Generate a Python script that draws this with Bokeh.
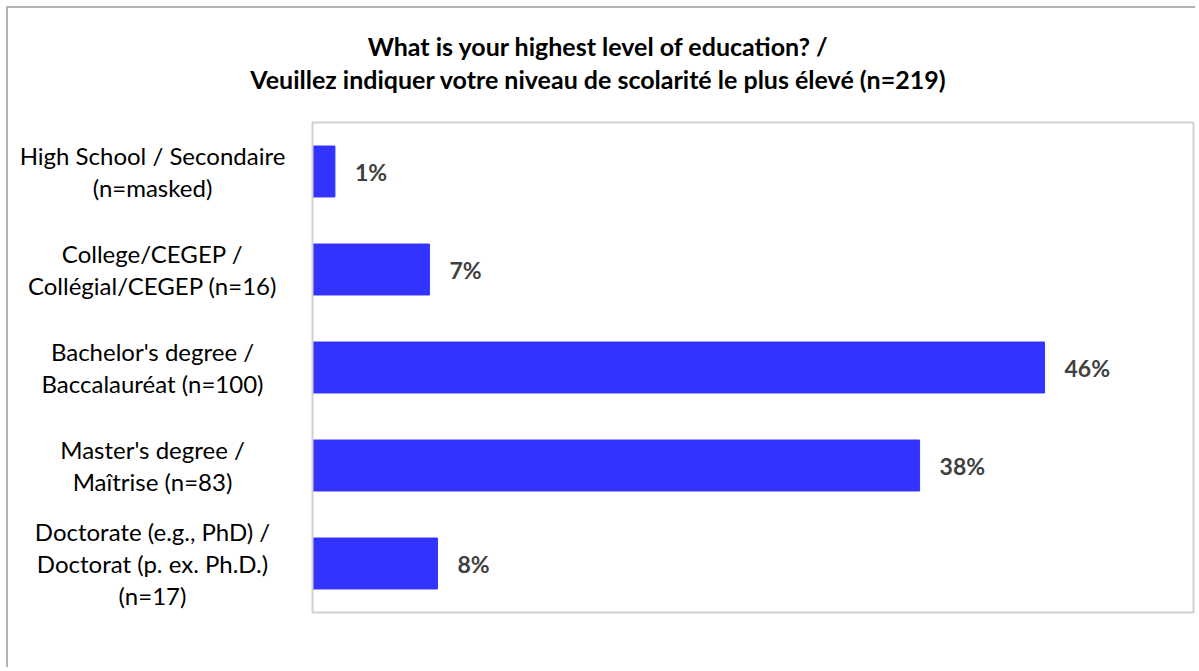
from bokeh.plotting import figure
from bokeh.models import Range1d, ColumnDataSource, Label, BoxAnnotation
from bokeh.core.properties import value
from bokeh.embed import file_html
from bokeh.resources import INLINE

categories = [
    "High School / Secondaire\n(n=masked)",
    "College/CEGEP /\nCollégial/CEGEP (n=16)",
    "Bachelor's degree /\nBaccalauréat (n=100)",
    "Master's degree /\nMaîtrise (n=83)",
    "Doctorate (e.g., PhD) /\nDoctorat (p. ex. Ph.D.)\n(n=17)",
]
percent = [1.4, 7.3, 45.7, 37.9, 7.8]
value_labels = ["1%", "7%", "46%", "38%", "8%"]

title_line1 = "What is your highest level of education? /"
title_line2 = "Veuillez indiquer votre niveau de scolarité le plus élevé (n=219)"

n = len(categories)
ypos = list(range(n))
x_max = 55

# layout (pixels on the canvas)
W, H = 1189, 661
area_left, area_right = 304, 1185   # plot-area box in canvas px
area_top, area_bottom = 114, 604
px_x = (area_right - area_left) / x_max
px_y = (area_bottom - area_top) / n

x_range = Range1d(-area_left / px_x, x_max + (W - area_right) / px_x)
y_range = Range1d(n - 0.5 + (H - area_bottom) / px_y, -0.5 - area_top / px_y)

src = ColumnDataSource(dict(y=ypos, cat=categories, pct=percent, lab=value_labels))

p = figure(
    width=W, height=H, x_range=x_range, y_range=y_range,
    output_backend="svg", toolbar_location=None,
    min_border=0, min_border_left=0, min_border_right=0, min_border_top=0, min_border_bottom=0,
    styles={"border-left": "2px solid #b3b3b3", "border-top": "2px solid #b3b3b3",
            "margin-left": "6px", "margin-top": "6px"},
)
p.xaxis.visible = False
p.yaxis.visible = False
p.xgrid.visible = False
p.ygrid.visible = False
p.outline_line_color = None
p.background_fill_color = "white"
p.border_fill_color = "white"

p.add_layout(BoxAnnotation(left=0, right=x_max, top=-0.5, bottom=n - 0.5,
                           fill_color=None, line_color="#d0d0d0", line_alpha=1.0,
                           line_width=2))

p.hbar(y="y", right="pct", left=0, height=0.52, source=src,
       fill_color="#3333ff", line_color="#3333ff")
p.text(x="pct", y="y", text="lab", source=src, x_offset=20,
       text_align="left", text_baseline="middle",
       text_font=value("Lato"), text_font_style="bold", text_font_size="23px",
       text_color="#404040")

for yi, cat in zip(ypos, categories):
    p.add_layout(Label(x=144, y=yi, x_units="screen", y_units="data", text=cat,
                       text_align="center", text_baseline="middle",
                       text_font="Lato", text_font_size="24px", text_color="#000000",
                       text_line_height=1.12))

p.add_layout(Label(x=590, y=H - 37, x_units="screen", y_units="screen", text=title_line1,
                   text_align="center", text_baseline="middle",
                   text_font="Lato", text_font_style="bold", text_font_size="25px",
                   text_color="#000000"))
p.add_layout(Label(x=590, y=H - 70, x_units="screen", y_units="screen", text=title_line2,
                   text_align="center", text_baseline="middle",
                   text_font="Lato", text_font_style="bold", text_font_size="25px",
                   text_color="#000000"))

open("out.html", "w").write(file_html(p, INLINE))
